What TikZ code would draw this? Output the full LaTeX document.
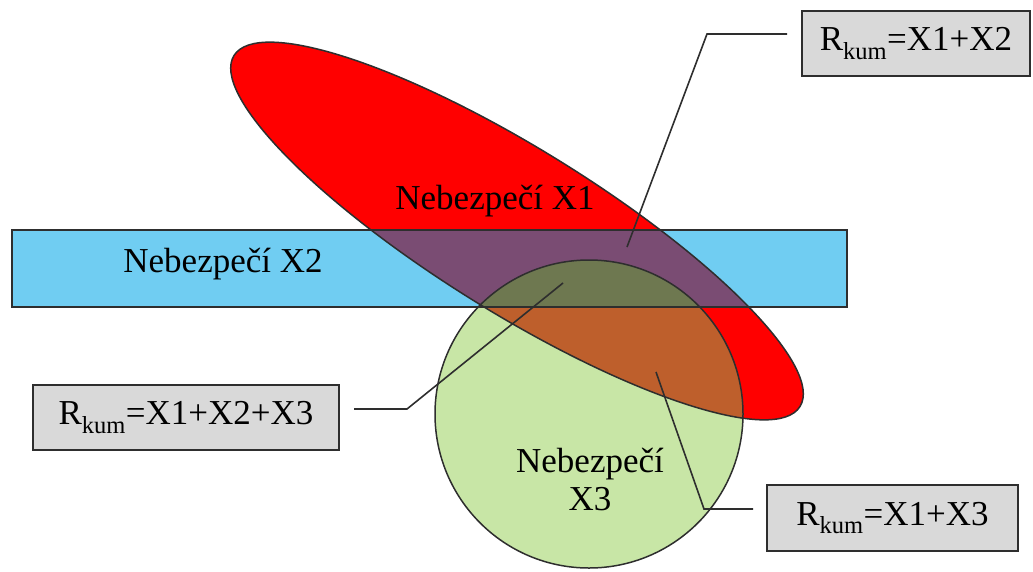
\documentclass[tikz,border=0pt]{standalone}
\usepackage{fontspec}
\setmainfont{Liberation Serif}
\definecolor{cRed}{HTML}{FF0000}
\definecolor{cBlue}{HTML}{70CDF2}
\definecolor{cGreen}{HTML}{C8E6A6}
\definecolor{cRB}{HTML}{7A4C73}
\definecolor{cRG}{HTML}{BE5F2C}
\definecolor{cBG}{HTML}{90CFB8}
\definecolor{cRBG}{HTML}{6E7850}
\definecolor{cBox}{HTML}{D9D9D9}
\definecolor{cLine}{HTML}{2E2E2E}
\tikzset{
  outline/.style={draw=cLine, line width=1.5pt},
  leader/.style={draw=cLine, line width=1.6pt},
  labelbox/.style={draw=cLine, line width=2pt, fill=cBox, inner sep=0pt,
     font=\fontsize{35}{40}\selectfont, text=black},
  hazard/.style={font=\fontsize{35}{42}\selectfont, text=black, align=center}
}
\newcommand{\bandpath}{(12,230) rectangle (847,307)}
\newcommand{\ellpath}{[rotate around={-31.8:(517,231)}] (517,231) ellipse [x radius=333, y radius=82]}
\newcommand{\circpath}{(589,414) circle [radius=154]}
\begin{document}
\begin{tikzpicture}[x=1pt, y=-1pt]
\useasboundingbox (0,0) rectangle (1033,571);
% base fills
\fill[cBlue] \bandpath;
\fill[cRed] \ellpath;
\fill[cGreen] \circpath;
% overlaps
\begin{scope}\clip \bandpath; \fill[cBG] \circpath; \end{scope}
\begin{scope}\clip \ellpath; \fill[cRB] \bandpath; \end{scope}
\begin{scope}\clip \ellpath; \fill[cRG] \circpath; \end{scope}
\begin{scope}\clip \ellpath; \clip \bandpath; \fill[cRBG] \circpath; \end{scope}
% outlines
\path[outline] \bandpath;
\path[outline] \ellpath;
\path[outline] \circpath;
% hazard texts
\node[hazard] (x1) at (495,201) {Nebezpečí X1};
\node[hazard] (x2) at (223,264) {Nebezpečí X2};
\node[hazard] (x3) at (590,479) {Nebezpečí\\[-4pt]X3};
% label boxes
\node[labelbox, minimum width=228pt, minimum height=65pt] (L1) at (916,43.5) {R\textsubscript{kum}=X1+X2};
\node[labelbox, minimum width=306pt, minimum height=65pt] (L2) at (186,417.5) {R\textsubscript{kum}=X1+X2+X3};
\node[labelbox, minimum width=251pt, minimum height=66pt] (L3) at (892.5,518) {R\textsubscript{kum}=X1+X3};
% leader coordinates
\coordinate (a1) at (787,34);
\coordinate (b1) at (707,34);
\coordinate (c1) at (627,247);
\coordinate (a2) at (354,409);
\coordinate (b2) at (407,409);
\coordinate (c2) at (563,283);
\coordinate (a3) at (753,509);
\coordinate (b3) at (704,509);
\coordinate (c3) at (656,372);
\draw[leader] (a1) -- (b1) -- (c1);
\draw[leader] (a2) -- (b2) -- (c2);
\draw[leader] (a3) -- (b3) -- (c3);
\end{tikzpicture}
\end{document}
